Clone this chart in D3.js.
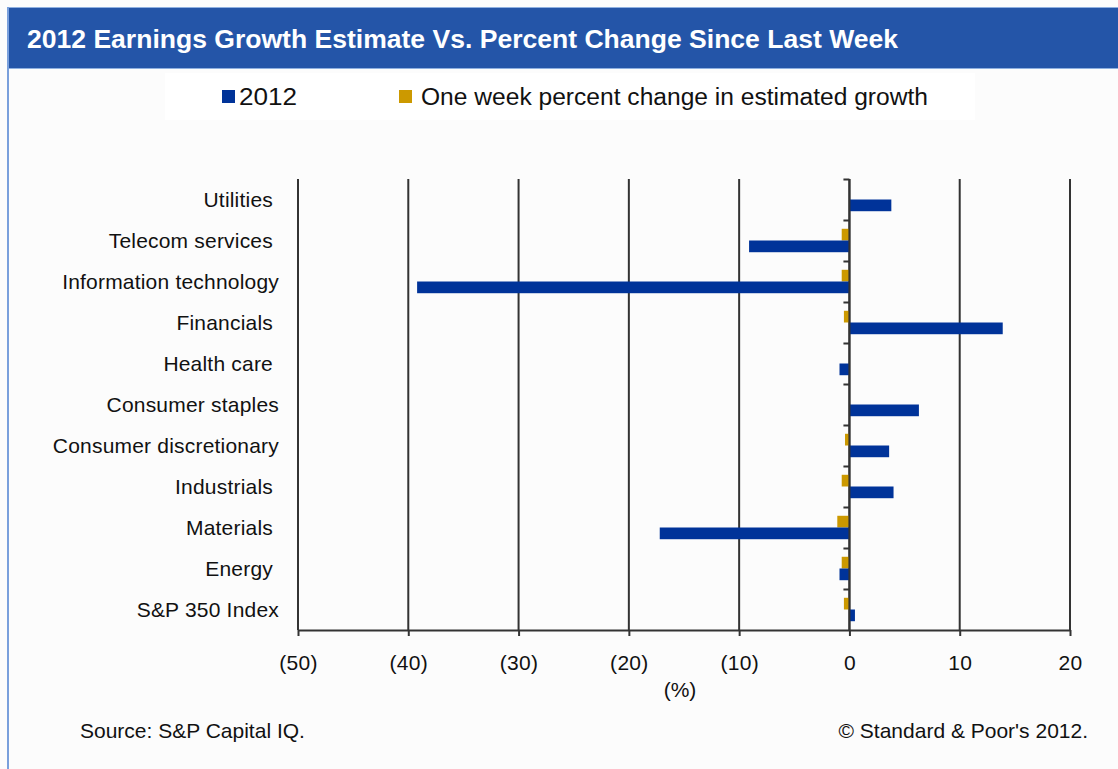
<!DOCTYPE html>
<html>
<head>
<meta charset="utf-8">
<script src="https://cdn.jsdelivr.net/npm/d3@7"></script>
<style>
  html, body { margin: 0; padding: 0; background: #fcfcfc; }
  svg { display: block; font-family: "Liberation Sans", Arial, sans-serif; }
</style>
</head>
<body>
<svg id="chart" width="1118" height="769"></svg>
<script>
// ---- data ----
const categories = ["Utilities ", "Telecom services ", "Information technology", "Financials ", "Health care ",
  "Consumer staples", "Consumer discretionary", "Industrials ", "Materials ", "Energy ", "S&P 350 Index"];
const growth2012 = [3.8, -9.1, -39.2, 13.9, -0.9, 6.3, 3.6, 4.0, -17.2, -0.9, 0.5];
const weekChange = [0, -0.7, -0.7, -0.5, 0, 0, -0.4, -0.7, -1.1, -0.7, -0.5];
const seriesNames = ["2012", "One week percent change in estimated growth"];
const xTicks = [-50, -40, -30, -20, -10, 0, 10, 20];
const titleText = "2012 Earnings Growth Estimate Vs. Percent Change Since Last Week";
const sourceText = "Source: S&P Capital IQ.";
const copyrightText = "\u00A9 Standard & Poor's 2012.";
const axisTitle = "(%)";

const BLUE = "#003399", GOLD = "#cc9900", GRID = "#333333";

const svg = d3.select("#chart");

// frame + header
svg.append("rect").attr("x", 7).attr("y", 7).attr("width", 1111).attr("height", 62).attr("fill", "#2455a8");
svg.append("line").attr("x1", 7).attr("x2", 1118).attr("y1", 7.5).attr("y2", 7.5).attr("stroke", "#8fb0e0");
svg.append("line").attr("x1", 7).attr("x2", 1118).attr("y1", 68.5).attr("y2", 68.5).attr("stroke", "#8fb0e0");
svg.append("line").attr("x1", 8).attr("x2", 8).attr("y1", 7).attr("y2", 769).attr("stroke", "#7aa0dc").attr("stroke-width", 2);
svg.append("text").attr("x", 27).attr("y", 48).attr("fill", "#fff")
  .attr("font-size", 26).attr("font-weight", "bold")
  .attr("textLength", 871).attr("lengthAdjust", "spacingAndGlyphs")
  .text(titleText);

// legend
svg.append("rect").attr("x", 165).attr("y", 73).attr("width", 810).attr("height", 47).attr("fill", "#ffffff");
const legendItems = [
  {name: seriesNames[0], color: BLUE, sx: 222, tx: 239, w: 58},
  {name: seriesNames[1], color: GOLD, sx: 399, tx: 421, w: 507}
];
legendItems.forEach(d => {
  svg.append("rect").attr("x", d.sx).attr("y", 90).attr("width", 13).attr("height", 13).attr("fill", d.color);
  svg.append("text").attr("x", d.tx).attr("y", 105).attr("font-size", 23).attr("fill", "#111")
    .attr("textLength", d.w).attr("lengthAdjust", "spacingAndGlyphs").text(d.name);
});

// scales
const x = d3.scaleLinear().domain([-50, 20]).range([298, 1070]);
const y = d3.scaleBand().domain(categories).range([179, 630]);
const sub = d3.scaleBand().domain(["week", "y2012"]).range([0, y.bandwidth()]).paddingInner(0).paddingOuter(0.75);

const plot = svg.append("g");

// gridlines
plot.selectAll("line.grid").data(xTicks).join("line")
  .attr("class", "grid")
  .attr("x1", d => x(d)).attr("x2", d => x(d))
  .attr("y1", y.range()[0]).attr("y2", y.range()[1])
  .attr("stroke", GRID).attr("stroke-width", 2);

// bars
const rows = categories.map((c, i) => ({cat: c, week: weekChange[i], y2012: growth2012[i]}));
plot.selectAll("rect.week").data(rows).join("rect")
  .attr("class", "week")
  .attr("x", d => x(Math.min(0, d.week))).attr("width", d => Math.abs(x(d.week) - x(0)))
  .attr("y", d => y(d.cat) + sub("week")).attr("height", sub.bandwidth())
  .attr("fill", GOLD);
plot.selectAll("rect.y2012").data(rows).join("rect")
  .attr("class", "y2012")
  .attr("x", d => x(Math.min(0, d.y2012))).attr("width", d => Math.abs(x(d.y2012) - x(0)))
  .attr("y", d => y(d.cat) + sub("y2012")).attr("height", sub.bandwidth())
  .attr("fill", BLUE);

// zero line with category ticks
plot.append("line").attr("x1", x(0)).attr("x2", x(0)).attr("y1", y.range()[0]).attr("y2", y.range()[1])
  .attr("stroke", GRID).attr("stroke-width", 2);
plot.selectAll("line.cattick").data(categories).join("line")
  .attr("class", "cattick")
  .attr("x1", x(0) - 6).attr("x2", x(0))
  .attr("y1", d => y(d) + 0.5).attr("y2", d => y(d) + 0.5)
  .attr("stroke", GRID).attr("stroke-width", 2);

// bottom axis
const fmt = d => d < 0 ? `(${-d})` : `${d}`;
const xAxis = svg.append("g").attr("transform", `translate(0,${y.range()[1]})`)
  .call(d3.axisBottom(x).tickValues(xTicks).tickFormat(fmt).tickSize(6).tickSizeOuter(0).tickPadding(19));
xAxis.select(".domain").attr("stroke", GRID).attr("stroke-width", 2);
xAxis.selectAll(".tick line").attr("stroke", GRID).attr("stroke-width", 2);
xAxis.selectAll(".tick text").attr("font-size", 21).attr("fill", "#111")
  .attr("font-family", "Liberation Sans, Arial, sans-serif").attr("letter-spacing", 0.3);

svg.append("text").attr("x", 680).attr("y", 697).attr("text-anchor", "middle")
  .attr("font-size", 21).attr("fill", "#111").text(axisTitle);

// category labels
svg.selectAll("text.cat").data(categories).join("text")
  .attr("class", "cat")
  .attr("x", 279).attr("y", d => y(d) + y.bandwidth() / 2 + 7)
  .attr("text-anchor", "end").attr("font-size", 21).attr("fill", "#111")
  .attr("letter-spacing", 0.2)
  .style("white-space", "pre")
  .text(d => d);

// footer
svg.append("text").attr("x", 80).attr("y", 738).attr("font-size", 21).attr("fill", "#111").text(sourceText);
svg.append("text").attr("x", 1088).attr("y", 738).attr("text-anchor", "end").attr("font-size", 21).attr("fill", "#111").text(copyrightText);
</script>
</body>
</html>
